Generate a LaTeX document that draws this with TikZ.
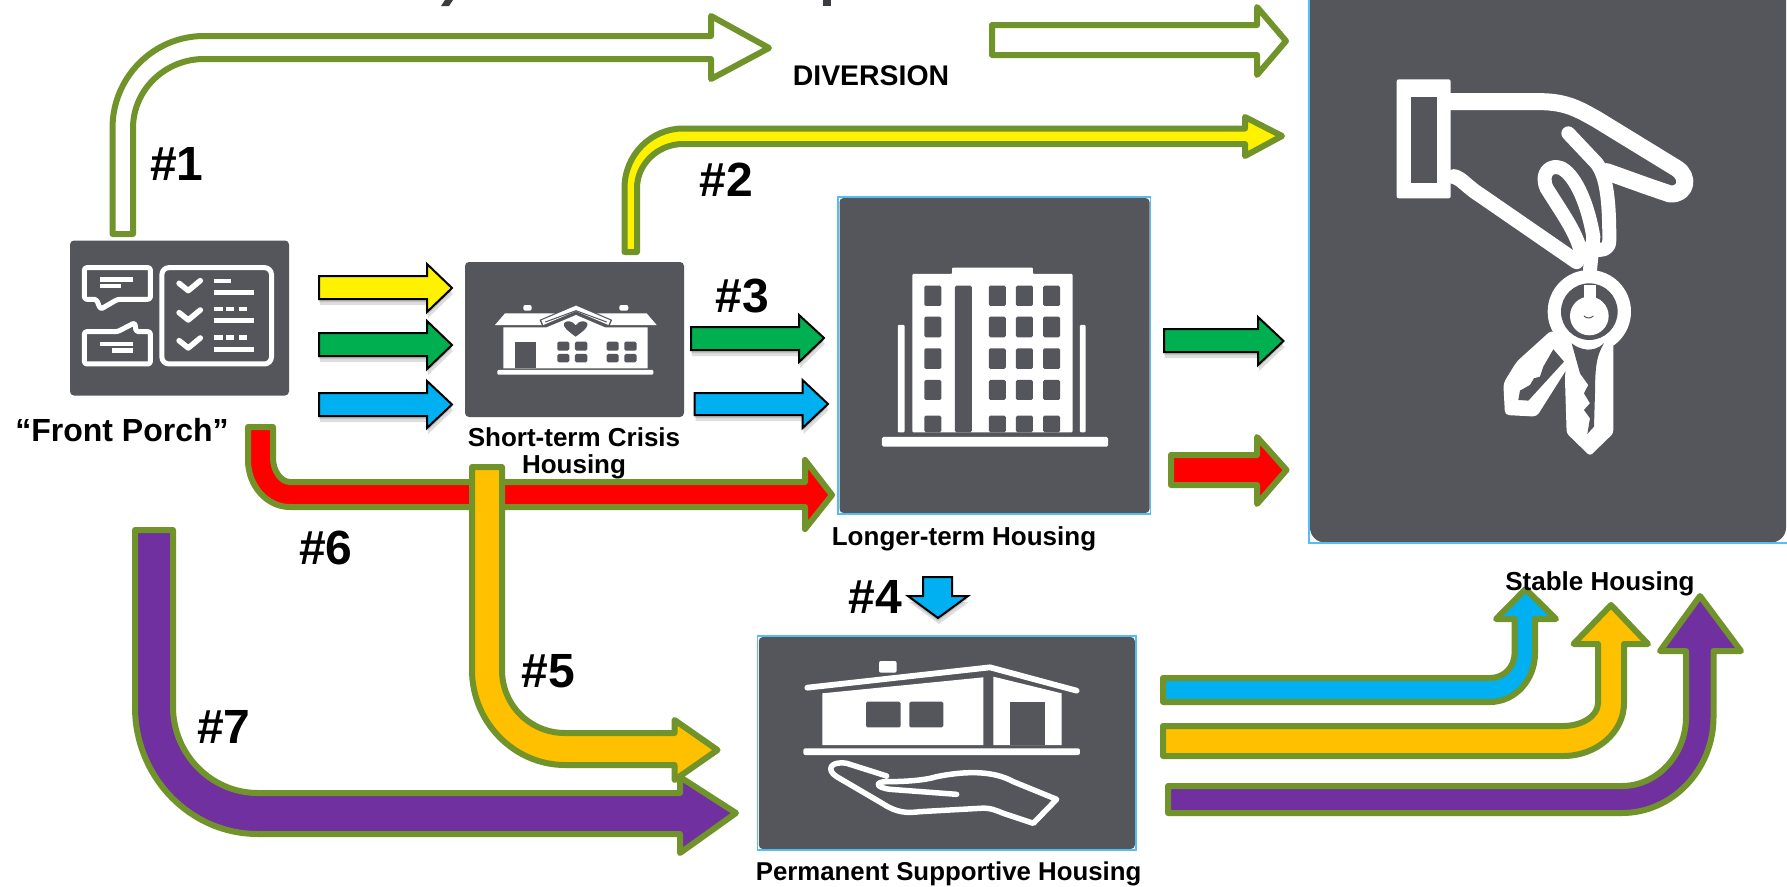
\documentclass[tikz,border=0pt]{standalone}
\usepackage{fontspec}
\setmainfont{Liberation Sans}
\definecolor{olive}{HTML}{70932A}
\definecolor{panelgray}{HTML}{54565B}
\definecolor{edgeblue}{HTML}{55BDF0}
\definecolor{cyanblue}{HTML}{00B0F0}
\definecolor{leaf}{HTML}{00B050}
\definecolor{gold}{HTML}{FFC000}
\definecolor{violet}{HTML}{7030A0}
\tikzset{
  panel/.style={fill=panelgray,rounded corners=4pt,draw=none,inner sep=0pt,outer sep=0pt},
  panelborder/.style={draw=edgeblue,line width=1.6pt},
  oliveblock/.style={draw=olive,line width=6pt,line join=round},
  blackblock/.style={draw=black,line width=2pt,line join=miter},
  shade/.style={fill=black,fill opacity=.13,draw=none},
  numlabel/.style={font=\bfseries\fontsize{48}{48}\selectfont,inner sep=0pt,anchor=base},
  lbl/.style={font=\bfseries\fontsize{#1}{#1}\selectfont,inner sep=0pt,anchor=base},
  iconline/.style={draw=white,line cap=round,line join=round},
  iconfill/.style={fill=white,draw=none},
  icongray/.style={fill=panelgray,draw=none},
}
\newcommand{\blackarrow}[2]{%
  \fill[shade,shift={(0,3)}] #2;
  \fill[shade,shift={(1,6)}] #2;
  \draw[blackblock,fill=#1] #2;}
\begin{document}
\begin{tikzpicture}[x=1pt,y=-1pt]
\useasboundingbox (0,0) rectangle (1787,886);
\clip (0,0) rectangle (1787,886);
\fill[white] (0,0) rectangle (1787,886);

% remains of a cut-off title
\fill[panelgray!70!black] (445,0) -- (453,0) -- (449,6) -- (441,6) -- cycle;
\fill[panelgray!70!black] (823,0) rectangle (831,6);

% panels
\node[panel,minimum width=219pt,minimum height=155pt] (porch) at (179.5,318) {};
\node[panel,minimum width=219pt,minimum height=155pt] (shortterm) at (574.5,339.5) {};
\node[panel,minimum width=310pt,minimum height=315pt] (longterm) at (994.5,355.5) {};
\draw[panelborder] (838,197) rectangle (1150.5,514);
\node[panel,minimum width=376pt,minimum height=212pt] (permanent) at (946.8,743) {};
\draw[panelborder] (757.5,636) rectangle (1136,850);
\node[panel,rounded corners=15pt,minimum width=476pt,minimum height=563pt] (stable) at (1548,261) {};
\draw[panelborder] (1309,-10) rectangle (1800,543);

% icon: front porch
\begin{scope}[xscale=0.574,yscale=0.3333]
  \draw[iconline,line width=5pt,rounded corners=2.5pt] (147,803) -- (262,803) -- (262,898) -- (205,898) -- (175,928) -- (168,898) -- (147,898) -- cycle;
  \draw[iconline,line width=5pt,rounded corners=7pt] (282,803) rectangle (473,1092);
  \draw[iconline,line width=5pt,rounded corners=2.5pt] (147,1092) -- (262,1092) -- (262,995) -- (237,995) -- (235,968) -- (205,995) -- (147,995) -- cycle;
  \foreach \v in {0,88,172}{
    \draw[iconline,line width=5.5pt] (312,{850+\v}) -- (328,{872+\v}) -- (349,{842+\v});}
  \draw[iconline,line width=4.4pt,line cap=butt] (175,838) -- (232,838) (175,858) -- (210,858) (175,1032) -- (232,1032) (195,1052) -- (232,1052);
  \draw[iconline,line width=4.6pt,line cap=butt] (372,843) -- (402,843) (372,877) -- (442,877) (372,962) -- (442,962) (372,1048) -- (442,1048);
  \foreach \y in {927,1013}{
    \draw[iconline,line width=4.6pt,line cap=butt] (372,\y) -- (388,\y) (394,\y) -- (408,\y) (416,\y) -- (430,\y);}
\end{scope}

% icon: crisis house
\begin{scope}[shift={(480,290)},scale=0.3333]
  \fill[iconfill,rounded corners=2pt] (130,45) rectangle (155,62) (418,45) rectangle (445,62);
  \fill[iconfill] (45,105) -- (75,70) -- (235,70) -- (195,105) -- cycle;
  \fill[iconfill] (340,70) -- (500,70) -- (530,105) -- (385,105) -- cycle;
  \fill[iconfill] (70,112) -- (200,112) -- (288,75) -- (375,112) -- (503,112) -- (503,235) -- (70,235) -- cycle;
  \draw[panelgray,line width=7.5pt,line join=miter] (183,100) -- (288,55) -- (392,100);
  \draw[white,line width=5pt,line join=miter] (187,98) -- (288,55) -- (388,98);
  \draw[panelgray,line width=1pt] (196,96) -- (288,62) -- (380,96);
  \fill[icongray] (287,140) .. controls (262,122) and (248,110) .. (252,100) .. controls (258,90) and (278,92) .. (287,106) .. controls (296,92) and (316,90) .. (322,100) .. controls (326,110) and (312,122) .. (287,140) -- cycle;
  \fill[icongray] (105,155) rectangle (168,235);
  \foreach \xa/\xb in {232/268,285/322,380/416,433/470}{
    \fill[icongray,rounded corners=1.5pt] (\xa,155) rectangle (\xb,182);
    \fill[icongray,rounded corners=1.5pt] (\xa,192) rectangle (\xb,217);}
  \fill[iconfill,rounded corners=1pt] (52,240) rectangle (520,254);
\end{scope}

% icon: tower
\begin{scope}[shift={(900,0)},xscale=0.5656,yscale=0.3333]
  \fill[iconfill,rounded corners=1pt] (22,1297) -- (22,822) -- (92,822) -- (92,803) -- (235,803) -- (235,822) -- (305,822) -- (305,1297) -- cycle;
  \fill[icongray,rounded corners=1.5pt] (97,857) -- (127,857) -- (127,1297) -- (97,1297) -- cycle;
  \foreach \xa/\xb in {43/73,157/187,205/235,253/283}{
    \foreach \ya/\yb in {857/918,950/1012,1045/1107,1140/1200,1247/1297}{
      \fill[icongray,rounded corners=1.5pt] (\xa,\ya) rectangle (\xb,\yb);}}
  \fill[iconfill,rounded corners=1pt] (-4,975) rectangle (8,1297) (318,975) rectangle (328,1297);
  \fill[iconfill,rounded corners=1.5pt] (-32,1311) rectangle (368,1340);
\end{scope}

% icon: hand and house
\begin{scope}[shift={(780,650)},scale=0.3333]
  \fill[iconfill,rounded corners=2pt] (297,33) rectangle (350,68);
  \fill[iconfill] (127,130) -- (610,82) -- (610,285) -- (127,285) -- cycle;
  \fill[iconfill] (640,80) -- (845,130) -- (845,285) -- (640,285) -- cycle;
  \draw[iconline,line width=5.8pt] (82,113) -- (630,52) -- (890,122);
  \fill[icongray,rounded corners=1.5pt] (258,155) rectangle (362,232) (388,155) rectangle (490,232);
  \fill[icongray] (690,155) rectangle (795,285);
  \fill[iconfill,rounded corners=2pt] (70,295) rectangle (900,315);
  \draw[iconline,line width=5.5pt] (320,378) -- (200,340) .. controls (150,332) and (138,360) .. (170,380) -- (310,462) .. controls (350,488) and (380,490) .. (420,485) -- (600,475) .. controls (630,472) and (650,482) .. (670,490) -- (760,520) -- (830,448) -- (700,395) .. controls (640,362) and (560,362) .. (470,380) .. controls (430,392) and (370,395) .. (320,395) .. controls (285,395) and (285,412) .. (330,418) -- (530,433);
\end{scope}

% icon: hand with keys
\begin{scope}[shift={(1380,60)},scale=0.3333]
  \fill[iconfill,rounded corners=2pt] (50,58) rectangle (212,415);
  \fill[icongray] (92,110) rectangle (170,368);
  \draw[iconline,line width=17pt] (212,125) -- (480,125) .. controls (560,125) and (600,150) .. (650,178) -- (890,325) .. controls (930,350) and (920,405) .. (870,402) -- (800,378) -- (680,335);
  \draw[iconline,line width=14pt] (565,220) -- (650,310) .. controls (680,350) and (688,420) .. (688,540) .. controls (688,570) and (670,570) .. (640,570);
  \draw[iconline,line width=14pt] (605,585) .. controls (590,520) and (560,480) .. (500,385) .. controls (480,340) and (510,310) .. (545,325) .. controls (590,350) and (625,440) .. (640,530) -- (630,630);
  \draw[iconline,line width=15pt] (222,350) .. controls (245,355) and (260,380) .. (300,405) -- (590,605);
  \fill[iconfill] (628,755) circle[radius=125];
  \fill[icongray] (628,755) circle[radius=85];
  \fill[iconfill] (612,675) rectangle (648,715);
  \fill[iconfill] (628,768) circle[radius=58];
  \draw[panelgray,line width=1pt] (612,768) .. controls (620,776) and (632,776) .. (640,768);
  % left key
  \fill[iconfill,rounded corners=4pt] (515,810) -- (590,880) -- (470,1070) -- (375,1065) -- (370,970) -- (410,905) -- cycle;
  \fill[icongray] (520,868) -- (552,905) -- (445,1022) -- (415,1020) -- (420,992) -- (450,975) -- (462,955) -- (480,950) -- (490,920) -- cycle;
  % right key
  \fill[iconfill,rounded corners=3pt] (560,850) -- (700,850) -- (700,1120) -- (630,1188) -- (560,1120) -- (555,960) -- cycle;
  \fill[icongray] (575,850) .. controls (600,870) and (640,880) .. (672,850) .. controls (655,880) and (645,900) .. (645,1000) -- (642,1100) -- (622,1122) -- (630,1075) -- (612,1050) -- (630,1030) -- (612,1000) -- (625,975) -- (600,940) -- cycle;
\end{scope}

% plain block arrows with black edge
\blackarrow{yellow}{(319,276) -- (427,276) -- (427,264) -- (452,288) -- (427,312) -- (427,299) -- (319,299) -- cycle}
\blackarrow{leaf}{(319,333) -- (427,333) -- (427,321) -- (452,345) -- (427,369) -- (427,356) -- (319,356) -- cycle}
\blackarrow{cyanblue}{(319,393) -- (427,393) -- (427,381) -- (452,404.5) -- (427,428) -- (427,416) -- (319,416) -- cycle}
\blackarrow{leaf}{(691,327) -- (799,327) -- (799,315) -- (824,338) -- (799,362) -- (799,350) -- (691,350) -- cycle}
\blackarrow{cyanblue}{(694.5,393) -- (802.5,393) -- (802.5,380) -- (828,404) -- (802.5,428) -- (802.5,415) -- (694.5,415) -- cycle}
\blackarrow{leaf}{(1164,329) -- (1258,329) -- (1258,317) -- (1283.5,341) -- (1258,365) -- (1258,352) -- (1164,352) -- cycle}
\blackarrow{cyanblue}{(923,577) -- (952,577) -- (952,596) -- (968,596) -- (938,618) -- (908,596) -- (923,596) -- cycle}

% olive edged block arrows
\draw[oliveblock,fill=white] (992,25) -- (1257,25) -- (1257,7) -- (1286,41) -- (1257,75) -- (1257,55) -- (992,55) -- cycle;
\draw[oliveblock,fill=red] (1171,455) -- (1257,455) -- (1257,437) -- (1286.5,470) -- (1257,504) -- (1257,485) -- (1171,485) -- cycle;
\draw[oliveblock,fill=white] (112.5,234) -- (112.5,128) .. controls +(0,-50.6) and +(-50.6,0) .. (204,36) -- (711,36) -- (711,16) -- (769,48) -- (711,79) -- (711,59) -- (204,59) .. controls +(-39,0) and +(0,-38) .. (133,128) -- (133,234) -- cycle;
\draw[oliveblock,fill=yellow] (624.5,252) -- (624.5,188) .. controls +(0,-33) and +(-32,0) .. (683,128.5) -- (1245,128.5) -- (1245,117) -- (1282,136) -- (1245,156) -- (1245,144) -- (683,144) .. controls +(-25,0) and +(0,-24) .. (637,188) -- (637,252) -- cycle;
\draw[oliveblock,fill=red] (248,427) -- (248,460) .. controls +(0,26) and +(-23,0) .. (290,507) -- (805,507) -- (805,529) -- (832,495) -- (805,460) -- (805,482) -- (290,482) .. controls +(-9,0) and +(0,13) .. (273,458) -- (273,427) -- cycle;
\draw[oliveblock,fill=violet] (135,530) -- (135,707) .. controls +(0,70) and +(-68,0) .. (258,834) -- (680,834) -- (680,853) -- (736,813) -- (680,777) -- (680,793) -- (258,793) .. controls +(-47,0) and +(0,47) .. (173,707) -- (173,530) -- cycle;
\draw[oliveblock,fill=gold] (472,467) -- (472,670) .. controls +(0,52) and +(-51,0) .. (565,765) -- (674.5,765) -- (674.5,780) -- (717.5,750) -- (674.5,720) -- (674.5,733) -- (565,733) .. controls +(-35,0) and +(0,35) .. (502,670) -- (502,467) -- cycle;
\draw[oliveblock,fill=cyanblue] (1163,678) -- (1490,678) .. controls +(14,0) and +(0,14) .. (1514.6,653) -- (1514.6,619) -- (1496,619) -- (1525.6,589) -- (1556,619) -- (1535,619) -- (1535,653) .. controls +(0,27) and +(25,0) .. (1490,702) -- (1163,702) -- cycle;
\draw[oliveblock,fill=gold] (1163,726) -- (1563,726) .. controls +(19,0) and +(0,13) .. (1598,703) -- (1598,644) -- (1573.5,644) -- (1611,605) -- (1648,644) -- (1624,644) -- (1624,703) .. controls +(0,29) and +(34,0) .. (1563,756) -- (1163,756) -- cycle;
\draw[oliveblock,fill=violet] (1168,786) -- (1622,786) .. controls +(35,0) and +(0,38) .. (1686,717) -- (1686,651) -- (1660,651) -- (1700,596) -- (1741,651) -- (1713.5,651) -- (1713.5,717) .. controls +(0,53) and +(50,0) .. (1622,813) -- (1168,813) -- cycle;

% labels
\node[numlabel] (n1) at (177,180) {\#1};
\node[numlabel] (n2) at (726,196) {\#2};
\node[numlabel] (n3) at (742,312) {\#3};
\node[numlabel] (n4) at (875,613) {\#4};
\node[numlabel] (n5) at (548,687) {\#5};
\node[numlabel] (n6) at (326,564) {\#6};
\node[numlabel] (n7) at (224,743) {\#7};
\node[lbl=28.4] (tdiv) at (871,85) {DIVERSION};
\node[lbl=32] (tporch) at (122,441) {“Front Porch”};
\node[lbl=26] (tshort) at (574,446) {Short-term Crisis};
\node[lbl=26] (tshortb) at (574,473) {Housing};
\node[lbl=26] (tlong) at (964,545) {Longer-term Housing};
\node[lbl=26] (tstable) at (1600,590) {Stable Housing};
\node[lbl=25.8] (tperm) at (948.6,880) {Permanent Supportive Housing};
\end{tikzpicture}
\end{document}
